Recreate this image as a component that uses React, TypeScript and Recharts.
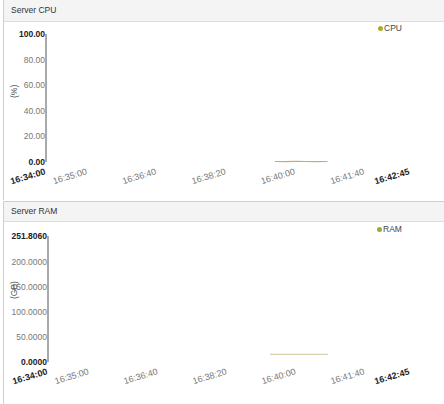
import { LineChart, Line, XAxis, YAxis, Legend, Text } from 'recharts';

// seconds after 16:34:00
const timeTicks = [0, 60, 160, 260, 360, 460, 525];
const sampleTimes = [330, 345, 360, 375, 390, 406];
const cpuValues = [0.4, 0.3, 0.5, 0.4, 0.3, 0.4];
const ramTimes = [322, 340, 355, 370, 390, 406];
const ramValues = [15.1, 15.2, 15.2, 15.3, 15.2, 15.2];
const cpuTicks = [0, 20, 40, 60, 80, 100];
const ramTicks = [0, 50, 100, 150, 200, 251.806];

const cpuData = sampleTimes.map((t, i) => ({ t, cpu: cpuValues[i] }));
const ramData = ramTimes.map((t, i) => ({ t, ram: ramValues[i] }));

const FONT = '"Liberation Sans", Arial, sans-serif';
const END = 525;

const fmtTime = (s: number) => {
  const total = 16 * 3600 + 34 * 60 + s;
  const h = Math.floor(total / 3600);
  const m = Math.floor((total % 3600) / 60);
  const sec = total % 60;
  const p = (n: number) => String(n).padStart(2, '0');
  return `${p(h)}:${p(m)}:${p(sec)}`;
};

const renderXTick = (props: any) => {
  const { x, y, payload } = props;
  const bold = payload.value === 0 || payload.value === END;
  return (
    <Text
      x={x}
      y={y + 12}
      angle={-17}
      textAnchor="end"
      verticalAnchor="end"
      fontSize={9}
      fontFamily={FONT}
      fontWeight={bold ? 700 : 400}
      fill={bold ? '#222' : '#777'}
    >
      {fmtTime(payload.value)}
    </Text>
  );
};

const makeYTick = (digits: number, max: number) => (props: any) => {
  const { x, y, payload } = props;
  const bold = payload.value === 0 || payload.value === max;
  return (
    <text
      x={x}
      y={y + 3}
      textAnchor="end"
      fontSize={8.5}
      fontFamily={FONT}
      fontWeight={bold ? 700 : 400}
      fill={bold ? '#222' : '#777'}
    >
      {payload.value.toFixed(digits)}
    </text>
  );
};

const legendContent = (name: string, color: string) => () => (
  <div style={{ display: 'flex', alignItems: 'center', fontFamily: FONT, fontSize: 8.5, color: '#444' }}>
    <span style={{ width: 5, height: 5, borderRadius: 3, background: color, marginRight: 1 }} />
    {name}
  </div>
);

const header: React.CSSProperties = {
  height: 21,
  lineHeight: '21px',
  background: '#f4f4f4',
  borderBottom: '1px solid #dcdcdc',
  paddingLeft: 7,
  fontFamily: FONT,
  fontSize: 8.5,
  color: '#333',
};

export default function App() {
  return (
    <div style={{ position: 'absolute', left: 0, top: 0, width: 444, height: 404, overflow: 'hidden', background: '#fff' }}>
      <div style={{ position: 'absolute', left: 3, top: -1, width: 460, height: 200, borderLeft: '1px solid #cfcfcf', borderTop: '1px solid #cfcfcf' }}>
        <div style={header}>Server CPU</div>
      </div>
      <div style={{ position: 'absolute', left: 3, top: 201, width: 460, height: 210, borderLeft: '1px solid #cfcfcf', borderTop: '1px solid #cfcfcf' }}>
        <div style={{ ...header, height: 19, lineHeight: '19px' }}>Server RAM</div>
      </div>

      <div style={{ position: 'absolute', left: 0, top: 23 }}>
        <LineChart width={444} height={175} data={cpuData} margin={{ top: 11, right: 34, bottom: 0, left: 0 }}>
          <XAxis
            dataKey="t"
            type="number"
            domain={[0, END]}
            ticks={timeTicks}
            interval={0}
            axisLine={false}
            tickLine={false}
            tickSize={0}
            tickMargin={0}
            height={36}
            tick={renderXTick}
          />
          <YAxis
            type="number"
            domain={[0, 100]}
            ticks={cpuTicks}
            interval={0}
            width={46}
            axisLine={{ stroke: '#555' }}
            tickLine={false}
            tickSize={0}
            tickMargin={1}
            tick={makeYTick(2, 100)}
            label={{ value: '(%)', angle: -90, position: 'insideLeft', offset: 14, fontSize: 8.5, fill: '#555', fontFamily: FONT }}
          />
          <Legend
            layout="horizontal"
            verticalAlign="middle"
            align="center"
            wrapperStyle={{ top: 0, left: 378, width: 60 }}
            content={legendContent('CPU', '#acac22')}
          />
          <Line dataKey="cpu" name="CPU" stroke="#c2ae74" strokeWidth={1.2} dot={false} isAnimationActive={false} />
        </LineChart>
      </div>

      <div style={{ position: 'absolute', left: 0, top: 222 }}>
        <LineChart width={444} height={180} data={ramData} margin={{ top: 14, right: 34, bottom: 0, left: 0 }}>
          <XAxis
            dataKey="t"
            type="number"
            domain={[0, END]}
            ticks={timeTicks}
            interval={0}
            axisLine={false}
            tickLine={false}
            tickSize={0}
            tickMargin={0}
            height={40}
            tick={renderXTick}
          />
          <YAxis
            type="number"
            domain={[0, 251.806]}
            ticks={ramTicks}
            interval={0}
            width={48}
            axisLine={{ stroke: '#555' }}
            tickLine={false}
            tickSize={0}
            tickMargin={1}
            tick={makeYTick(4, 251.806)}
            label={{ value: '(GB)', angle: -90, position: 'insideLeft', offset: 14, fontSize: 8.5, fill: '#555', fontFamily: FONT }}
          />
          <Legend
            layout="horizontal"
            verticalAlign="middle"
            align="center"
            wrapperStyle={{ top: 2, left: 377, width: 60 }}
            content={legendContent('RAM', '#9aab2e')}
          />
          <Line dataKey="ram" name="RAM" stroke="#d8d2ae" strokeWidth={1.2} dot={false} isAnimationActive={false} />
        </LineChart>
      </div>
    </div>
  );
}
